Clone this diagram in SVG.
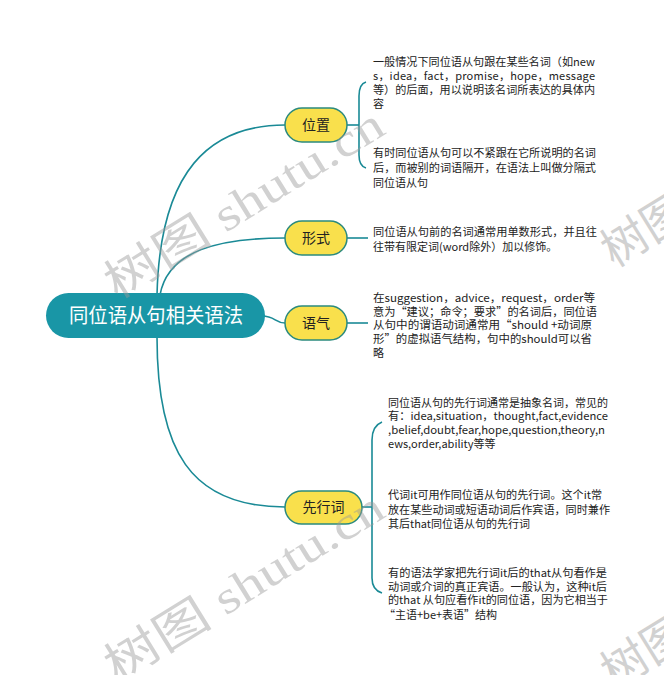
<svg xmlns="http://www.w3.org/2000/svg" width="664" height="675" viewBox="0 0 664 675">
<style>
.t{font-family:"Noto Sans CJK SC","Microsoft YaHei",sans-serif;font-size:11px;fill:#222}
.n{font-family:"Noto Sans CJK SC",sans-serif;font-size:14px;fill:#222;text-anchor:middle}
.r{font-family:"Noto Sans CJK SC",sans-serif;font-size:20px;fill:#fff;text-anchor:middle}
.box{fill:#f9e04c;stroke:#2b8a7e;stroke-width:1.5}
.c{fill:none;stroke:#1a8a96;stroke-width:1.6}
.wm{font-family:"Liberation Serif","Noto Sans CJK SC",serif;font-size:46px;fill:#9a9a9a;opacity:0.45}
</style>
<rect width="664" height="675" fill="#fff"/>
<g id="connectors">
<path class="c" d="M157,295 C160,170 210,125 285,125"/>
<path class="c" d="M160,295 C168,250 220,238 285,238"/>
<path class="c" d="M262,316 C275,316 275,323 285,323"/>
<path class="c" d="M157,337 C157,450 190,507 285,507"/>
<path class="c" d="M347,125 L359,125"/>
<path class="c" d="M366,82 Q359,84 359,96 L359,155 Q359,166 366,168"/>
<path class="c" d="M347,238 L368,238"/>
<path class="c" d="M347,323 L368,323"/>
<path class="c" d="M362,507 L372,507"/>
<path class="c" d="M382,422 Q372,426 372,440 L372,578 Q372,590 382,593"/>
</g>
<g id="root">
<rect x="46" y="293" width="219" height="45" rx="22.5" fill="#1996a6"/>
<text class="r" x="156" y="323" textLength="174" lengthAdjust="spacingAndGlyphs">同位语从句相关语法</text>
</g>
<g id="weizhi">
<rect class="box" x="285" y="108" width="62" height="34" rx="17"/>
<text class="n" x="316" y="130">位置</text>
</g>
<g id="xingshi">
<rect class="box" x="285" y="221" width="62" height="34" rx="17"/>
<text class="n" x="316" y="243">形式</text>
</g>
<g id="yuqi">
<rect class="box" x="285" y="306" width="62" height="34" rx="17"/>
<text class="n" x="316" y="328">语气</text>
</g>
<g id="xianxingci">
<rect class="box" x="285" y="491" width="77" height="33" rx="16.5"/>
<text class="n" x="323.5" y="512">先行词</text>
</g>
<g id="weizhi-t1">
<text class="t" x="373" y="66" textLength="222" lengthAdjust="spacingAndGlyphs">一般情况下同位语从句跟在某些名词（如new</text>
<text class="t" x="373" y="80" textLength="222" lengthAdjust="spacing">s，idea，fact，promise，hope，message</text>
<text class="t" x="373" y="94" textLength="222" lengthAdjust="spacingAndGlyphs">等）的后面，用以说明该名词所表达的具体内</text>
<text class="t" x="373" y="108">容</text>
</g>
<g id="weizhi-t2">
<text class="t" x="373" y="157" textLength="223" lengthAdjust="spacingAndGlyphs">有时同位语从句可以不紧跟在它所说明的名词</text>
<text class="t" x="373" y="172" textLength="223" lengthAdjust="spacingAndGlyphs">后，而被别的词语隔开，在语法上叫做分隔式</text>
<text class="t" x="373" y="187">同位语从句</text>
</g>
<g id="xingshi-t">
<text class="t" x="373" y="236" textLength="224" lengthAdjust="spacingAndGlyphs">同位语从句前的名词通常用单数形式，并且往</text>
<text class="t" x="373" y="251">往带有限定词(word除外）加以修饰。</text>
</g>
<g id="yuqi-t">
<text class="t" x="373" y="302" textLength="222" lengthAdjust="spacingAndGlyphs">在suggestion，advice，request，order等</text>
<text class="t" x="373" y="316" textLength="224" lengthAdjust="spacingAndGlyphs">意为“建议；命令；要求”的名词后，同位语</text>
<text class="t" x="373" y="329" textLength="219" lengthAdjust="spacingAndGlyphs">从句中的谓语动词通常用“should +动词原</text>
<text class="t" x="373" y="343" textLength="219" lengthAdjust="spacingAndGlyphs">形”的虚拟语气结构，句中的should可以省</text>
<text class="t" x="373" y="357">略</text>
</g>
<g id="xianxingci-t1">
<text class="t" x="388" y="407" textLength="220" lengthAdjust="spacingAndGlyphs">同位语从句的先行词通常是抽象名词，常见的</text>
<text class="t" x="388" y="420" textLength="220" lengthAdjust="spacingAndGlyphs">有：idea,situation，thought,fact,evidence</text>
<text class="t" x="388" y="434" textLength="217" lengthAdjust="spacingAndGlyphs">,belief,doubt,fear,hope,question,theory,n</text>
<text class="t" x="388" y="448">ews,order,ability等等</text>
</g>
<g id="xianxingci-t2">
<text class="t" x="388" y="499" textLength="214" lengthAdjust="spacingAndGlyphs">代词it可用作同位语从句的先行词。这个it常</text>
<text class="t" x="388" y="514" textLength="222" lengthAdjust="spacingAndGlyphs">放在某些动词或短语动词后作宾语，同时兼作</text>
<text class="t" x="388" y="528">其后that同位语从句的先行词</text>
</g>
<g id="xianxingci-t3">
<text class="t" x="388" y="577" textLength="219" lengthAdjust="spacingAndGlyphs">有的语法学家把先行词it后的that从句看作是</text>
<text class="t" x="388" y="591" textLength="219" lengthAdjust="spacingAndGlyphs">动词或介词的真正宾语。一般认为，这种it后</text>
<text class="t" x="388" y="604" textLength="220" lengthAdjust="spacingAndGlyphs">的that 从句应看作it的同位语，因为它相当于</text>
<text class="t" x="384" y="619">“主语+be+表语”结构</text>
</g>
<g id="watermarks">
<text class="wm" transform="translate(117,300) rotate(-31.7)" textLength="318" lengthAdjust="spacingAndGlyphs">树图 shutu.cn</text>
<text class="wm" transform="translate(117,683) rotate(-31.7)" textLength="318" lengthAdjust="spacingAndGlyphs">树图 shutu.cn</text>
<text class="wm" transform="translate(614,268) rotate(-31.7)">树图</text>
<text class="wm" transform="translate(614,690) rotate(-31.7)">树图</text>
</g>
</svg>
